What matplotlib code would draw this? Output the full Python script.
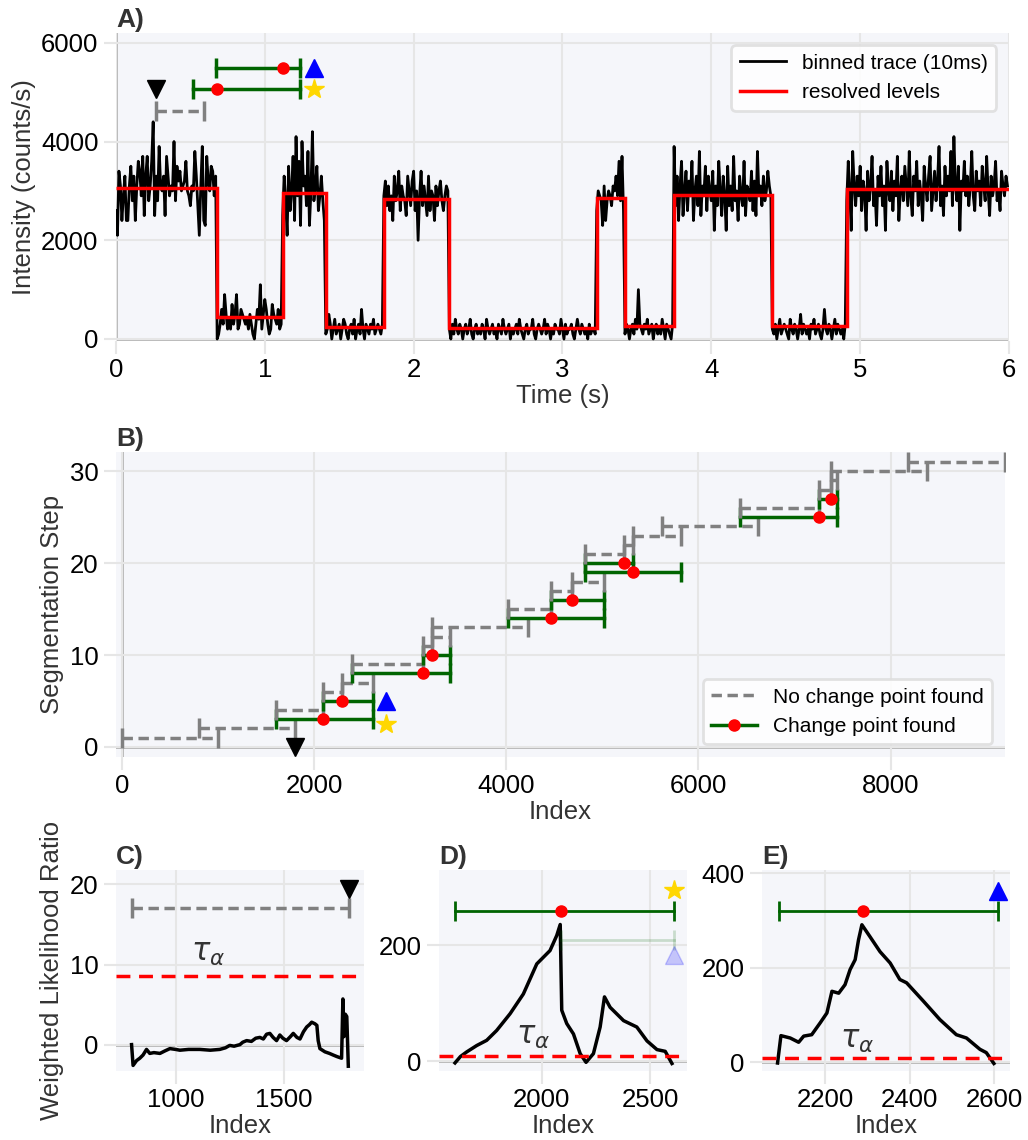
import matplotlib
matplotlib.use("Agg")
import matplotlib.pyplot as plt
from matplotlib.lines import Line2D
import numpy as np

plt.rcParams["font.family"] = ["Liberation Sans", "DejaVu Sans"]

BG = "#f5f6fa"
GRID = "#e6e6e6"
ZERO = "#b4b4b4"
LABEL = "#333333"
GREEN = "#006400"
GRAY = "#808080"

# ---------------- panel A: binned trace (photon counts per 10 ms bin) ----------------
bin_width = 0.01  # s
counts_per_bin = [
    # high 0.00-0.68 s
    26, 21, 34, 31, 24, 29, 33, 24, 24, 31, 35, 28, 33, 24, 31, 36, 34, 29, 37, 25,
    33, 37, 28, 31, 36, 44, 25, 33, 28, 39, 31, 30, 33, 25, 37, 33, 29, 31, 30, 40,
    28, 35, 32, 34, 30, 31, 32, 36, 30, 29, 27, 31, 30, 38, 33, 27, 21, 31, 39, 24,
    23, 37, 32, 30, 35, 34, 29, 33,
    # low 0.68-1.12 s
    0, 1, 3, 6, 3, 9, 5, 2, 4, 2, 7, 3, 5, 9, 2, 3, 6, 5, 4, 3,
    4, 2, 5, 3, 1, 0, 3, 6, 4, 11, 2, 5, 8, 6, 3, 1, 2, 7, 5, 4,
    3, 6, 2, 3,
    # high 1.12-1.41 s
    25, 33, 28, 21, 35, 26, 30, 37, 24, 41, 29, 36, 23, 40, 31, 33, 27, 38, 23, 30,
    42, 28, 31, 35, 26, 29, 33, 28, 24,
    # low 1.41-1.80 s
    1, 2, 5, 3, 0, 2, 4, 1, 2, 3, 0, 2, 4, 3, 1, 0, 2, 3, 1, 4,
    0, 2, 3, 1, 6, 2, 0, 3, 2, 1, 3, 2, 4, 1, 2, 3, 2, 1, 3,
    # high 1.80-2.24 s
    29, 32, 27, 31, 26, 29, 24, 33, 28, 30, 34, 26, 31, 29, 28, 25, 33, 30, 27, 32,
    34, 26, 30, 20, 29, 34, 27, 31, 28, 25, 33, 26, 30, 29, 24, 31, 27, 30, 32, 28,
    26, 29, 31, 30,
    # low 2.24-3.23 s
    2, 0, 3, 1, 4, 2, 1, 3, 2, 0, 2, 3, 1, 2, 4, 1, 0, 2, 3, 1,
    2, 1, 3, 2, 0, 4, 2, 1, 2, 3, 1, 2, 0, 3, 2, 1, 4, 2, 1, 2,
    3, 0, 2, 1, 2, 3, 1, 4, 2, 1, 0, 2, 3, 1, 2, 2, 4, 1, 0, 2,
    3, 2, 1, 2, 4, 1, 3, 2, 0, 2, 1, 3, 2, 2, 1, 4, 2, 0, 3, 1,
    2, 2, 3, 1, 0, 2, 4, 2, 1, 3, 2, 1, 2, 0, 3, 1, 2, 2, 1,
    # high 3.23-3.42 s
    26, 30, 29, 28, 23, 31, 24, 28, 30, 29, 27, 31, 30, 33, 29, 36, 28, 37, 26,
    # low 3.42-3.75 s
    1, 3, 2, 0, 2, 3, 1, 4, 2, 10, 3, 2, 1, 3, 2, 4, 1, 2, 3, 0,
    2, 3, 1, 2, 1, 4, 2, 0, 3, 2, 1, 0, 3,
    # high 3.75-4.41 s
    39, 27, 33, 24, 31, 36, 25, 30, 34, 26, 32, 29, 36, 24, 30, 33, 27, 38, 25, 31,
    29, 35, 26, 33, 30, 28, 34, 22, 31, 27, 36, 30, 25, 33, 29, 22, 35, 27, 31, 26,
    37, 28, 30, 24, 33, 29, 27, 36, 25, 31, 30, 28, 34, 26, 32, 25, 38, 29, 31, 27,
    33, 28, 30, 34, 31, 29,
    # low 4.41-4.91 s
    2, 1, 3, 0, 2, 4, 1, 2, 3, 2, 1, 0, 4, 2, 1, 3, 2, 0, 2, 5,
    1, 3, 2, 1, 2, 0, 3, 2, 4, 1, 2, 3, 1, 0, 2, 6, 2, 1, 3, 2,
    0, 2, 4, 1, 3, 2, 1, 2, 0, 3,
    # high 4.91-6.00 s
    28, 36, 30, 22, 38, 31, 27, 33, 29, 35, 26, 32, 30, 22, 34, 28, 31, 37, 27, 30,
    23, 33, 29, 35, 27, 31, 22, 36, 30, 28, 34, 26, 32, 29, 37, 24, 30, 33, 28, 35,
    31, 27, 38, 29, 25, 33, 30, 36, 27, 32, 29, 24, 35, 31, 28, 33, 37, 26, 30, 34,
    28, 32, 39, 27, 31, 25, 35, 29, 33, 30, 38, 27, 41, 31, 28, 35, 22, 32, 30, 36,
    29, 33, 27, 31, 38, 29, 26, 34, 30, 32, 27, 35, 31, 28, 37, 30, 25, 33, 29, 31,
    36, 28, 30, 26, 34, 31, 29, 33, 31,
]

# resolved intensity levels (counts/s)
level_edges = [0.0, 0.68, 1.12, 1.41, 1.80, 2.24, 3.23, 3.42, 3.75, 4.41, 4.91, 6.0]
level_values = [3060, 450, 2960, 235, 2830, 215, 2860, 255, 2920, 255, 3040]

# search windows shown on top of the trace (time in s, row height in counts/s)
a_window_start = [0.27, 0.52, 0.675]
a_window_end = [0.59, 1.235, 1.235]
a_window_row = [4620, 5070, 5500]
a_window_cp = [None, 0.68, 1.12]
a_marker_x = [0.27, 1.33, 1.33]
a_marker_y = [5070, 5070, 5500]

# ---------------- panel B: segmentation steps ----------------
seg_start = [0, 800, 1600, 1600, 2090, 2090, 2290, 2400, 2400, 3135, 3135, 3230, 3230,
             4020, 4020, 4470, 4470, 4685, 4825, 4825, 4825, 5230, 5315, 5620,
             6435, 6435, 7250, 7250, 7380, 7380, 8180]
seg_end = [1000, 1800, 2610, 2090, 2610, 2290, 2610, 3415, 3135, 3415, 3230, 3415, 4230,
           5020, 4470, 5020, 4685, 5020, 5820, 5315, 5230, 5315, 5820, 6620,
           7440, 7250, 7440, 7380, 7440, 8375, 9190]
seg_cp = [None, None, 2090, None, 2290, None, None, 3135, None, 3230, None, None, None,
          4470, None, 4685, None, None, 5315, 5230, None, None, None, None,
          7250, None, 7380, None, None, None, None]
b_marker_x = [1800, 2750, 2750]
b_marker_y = [0, 2.5, 5]

# ---------------- panels C-E: weighted likelihood ratio ----------------
threshold = 8.6

c_index = [797, 804, 820, 835, 850, 866, 881, 900, 928, 950, 974, 1000, 1020, 1060, 1112,
           1160, 1204, 1230, 1250, 1270, 1297, 1310, 1328, 1350, 1370, 1389, 1405, 1420,
           1435, 1450, 1466, 1481, 1495, 1512, 1530, 1543, 1560, 1574, 1590, 1605, 1618,
           1628, 1643, 1652, 1658, 1666, 1689, 1710, 1727, 1745, 1766, 1772, 1777, 1783,
           1790, 1797]
c_wlr = [0.0, -2.6, -2.0, -1.7, -1.3, -0.6, -1.1, -1.0, -1.1, -0.8, -0.5, -0.6, -0.7,
         -0.6, -0.6, -0.7, -0.6, -0.4, -0.1, -0.2, 0.0, 0.3, 0.5, 0.4, 0.8, 0.9, 0.7,
         1.3, 1.4, 0.9, 0.5, 1.2, 0.8, 0.5, 1.0, 1.4, 0.9, 0.7, 1.6, 2.2, 2.5, 2.8, 2.6,
         2.4, 0.5, -0.5, -0.9, -1.1, -1.3, -1.5, -1.7, 5.7, 1.0, 3.8, 3.5, -2.7]

d_index = [1600, 1625, 1654, 1700, 1746, 1792, 1854, 1915, 1977, 2038, 2069, 2085, 2089,
           2092, 2115, 2146, 2177, 2204, 2238, 2269, 2289, 2315, 2377, 2438, 2485, 2531,
           2569, 2600]
d_wlr = [-3, 8, 16, 27, 36, 53, 82, 116, 168, 191, 217, 236, 150, 88, 65, 47, 13, -2, 13,
         59, 111, 93, 70, 59, 35, 20, 17, -4]

e_index = [2087, 2095, 2117, 2137, 2149, 2168, 2188, 2204, 2216, 2232, 2247, 2259, 2271,
           2279, 2287, 2306, 2330, 2354, 2377, 2393, 2433, 2472, 2511, 2535, 2567, 2582,
           2600]
e_wlr = [-2, 56, 51, 42, 55, 58, 83, 104, 150, 146, 164, 196, 217, 259, 291, 266, 234,
         210, 175, 168, 129, 90, 58, 51, 27, 20, -3]


def style(ax, title):
    ax.set_facecolor(BG)
    for s in ax.spines.values():
        s.set_visible(False)
    ax.grid(True, color=GRID, lw=1.5)
    ax.set_axisbelow(True)
    ax.tick_params(colors=GRID, labelcolor="black", labelsize=18.5, length=9, width=1.5)
    ax.set_title(title, loc="left", fontweight="bold", fontsize=19, color=LABEL, pad=4)
    ax.axhline(0, color=ZERO, lw=2, zorder=0.5)


def window(ax, x0, x1, y, cp, capsize=14, lw=2.5, alpha=1.0):
    """Draw a search window; green with a red dot if a change point was found."""
    if cp is None:
        ax.plot([x0, x1], [y, y], color=GRAY, lw=lw, ls=(0, (3, 1.6)), alpha=alpha, zorder=3)
        ax.plot([x0, x1], [y, y], ls="none", marker="|", ms=capsize, mew=lw,
                color=GRAY, alpha=alpha, zorder=3)
    else:
        ax.plot([x0, x1], [y, y], color=GREEN, lw=lw, alpha=alpha, zorder=3)
        ax.plot([x0, x1], [y, y], ls="none", marker="|", ms=capsize, mew=lw,
                color=GREEN, alpha=alpha, zorder=3)
        if alpha == 1.0:
            ax.plot([cp], [y], "o", color="red", ms=8, zorder=4)


def legend_frame(leg):
    leg.get_frame().set_edgecolor("#dddddd")
    leg.get_frame().set_linewidth(2)
    leg.get_frame().set_facecolor("white")
    leg.get_frame().set_alpha(0.85)


fig = plt.figure(figsize=(10.28, 11.4), dpi=100)
axA = fig.add_axes([0.1128, 0.7009, 0.8687, 0.2702])
axB = fig.add_axes([0.1128, 0.3360, 0.8648, 0.2675])
axC = fig.add_axes([0.1128, 0.0605, 0.2412, 0.1763])
axD = fig.add_axes([0.4270, 0.0605, 0.2412, 0.1763])
axE = fig.add_axes([0.7412, 0.0605, 0.2412, 0.1763])

# ---- A ----
style(axA, "A)")
axA.axvline(0, color=ZERO, lw=2, zorder=0.5)
t = np.arange(len(counts_per_bin)) * bin_width
intensity = np.array(counts_per_bin) / bin_width
axA.plot(t, intensity, color="black", lw=2, label="binned trace (10ms)", zorder=2)
axA.stairs(level_values, level_edges, color="red", lw=2.5, baseline=None,
           label="resolved levels", zorder=2.5)
for x0, x1, y, cp in zip(a_window_start, a_window_end, a_window_row, a_window_cp):
    window(axA, x0, x1, y, cp, capsize=14)
axA.plot(a_marker_x[0], a_marker_y[0], "v", color="black", ms=13, zorder=5)
axA.plot(a_marker_x[1], a_marker_y[1], "*", color="gold", ms=15, zorder=5)
axA.plot(a_marker_x[2], a_marker_y[2], "^", color="blue", ms=13, zorder=5)
axA.set_xlim(0, 6)
axA.set_ylim(-40, 6200)
axA.set_yticks([0, 2000, 4000, 6000])
axA.set_xlabel("Time (s)", fontsize=18.5, color=LABEL, labelpad=1)
axA.set_ylabel("Intensity (counts/s)", fontsize=18.5, color=LABEL)
leg = axA.legend(loc="upper right", fontsize=15, frameon=True, fancybox=True,
                 borderaxespad=0.6, handlelength=2.2, handletextpad=0.8)
legend_frame(leg)

# ---- B ----
style(axB, "B)")
axB.axvline(0, color=ZERO, lw=2, zorder=0.5)
for k, (x0, x1, cp) in enumerate(zip(seg_start, seg_end, seg_cp), start=1):
    window(axB, x0, x1, k, cp, capsize=15)
axB.plot(b_marker_x[0], b_marker_y[0], "v", color="black", ms=13, zorder=5)
axB.plot(b_marker_x[1], b_marker_y[1], "*", color="gold", ms=15, zorder=5)
axB.plot(b_marker_x[2], b_marker_y[2], "^", color="blue", ms=13, zorder=5)
axB.set_xlim(-60, 9190)
axB.set_ylim(-1.1, 32.1)
axB.set_yticks([0, 10, 20, 30])
axB.set_xticks([0, 2000, 4000, 6000, 8000])
axB.set_xlabel("Index", fontsize=18.5, color=LABEL, labelpad=1)
axB.set_ylabel("Segmentation Step", fontsize=18.5, color=LABEL)
handles = [Line2D([], [], color=GRAY, lw=2.5, ls=(0, (3, 1.6))),
           Line2D([], [], color=GREEN, lw=2.5, marker="o", mfc="red", mec="red", ms=8)]
leg = axB.legend(handles, ["No change point found", "Change point found"], loc="lower right",
                 fontsize=15, frameon=True, fancybox=True, borderaxespad=0.6,
                 handlelength=2.2, handletextpad=0.8)
legend_frame(leg)

# ---- C ----
style(axC, "C)")
axC.plot(c_index, c_wlr, color="black", lw=2.5, zorder=2)
axC.axhline(threshold, color="red", lw=2.5, ls=(0, (4, 2.5)), zorder=2)
axC.text(1070, 10.5, r"$\tau_\alpha$", fontsize=22, color=LABEL)
window(axC, seg_start[1], seg_end[1], 17, None, capsize=14)
axC.plot(seg_end[1], 19.4, "v", color="black", ms=13, zorder=5)
axC.set_xlim(725, 1869)
axC.set_ylim(-3.3, 21.8)
axC.set_xticks([1000, 1500])
axC.set_yticks([0, 10, 20])
axC.set_xlabel("Index", fontsize=18.5, color=LABEL, labelpad=1)
axC.set_ylabel("Weighted Likelihood Ratio", fontsize=18.5, color=LABEL)

# ---- D ----
style(axD, "D)")
axD.plot(d_index, d_wlr, color="black", lw=2.5, zorder=2)
axD.axhline(threshold, color="red", lw=2.5, ls=(0, (4, 2.5)), zorder=2)
axD.text(1880, 30, r"$\tau_\alpha$", fontsize=22, color=LABEL)
window(axD, seg_start[2], seg_end[2], 260, seg_cp[2], capsize=14, lw=2)
window(axD, seg_start[4], seg_end[4], 210, seg_cp[4], capsize=14, lw=2, alpha=0.18)
axD.plot(seg_end[2], 296, "*", color="gold", ms=15, zorder=5)
axD.plot(seg_end[4], 183, "^", color="blue", ms=13, alpha=0.2, zorder=5)
axD.set_xlim(1526, 2669)
axD.set_ylim(-17, 330)
axD.set_xticks([2000, 2500])
axD.set_yticks([0, 200])
axD.set_xlabel("Index", fontsize=18.5, color=LABEL, labelpad=1)

# ---- E ----
style(axE, "E)")
axE.plot(e_index, e_wlr, color="black", lw=2.5, zorder=2)
axE.axhline(threshold, color="red", lw=2.5, ls=(0, (4, 2.5)), zorder=2)
axE.text(2235, 30, r"$\tau_\alpha$", fontsize=22, color=LABEL)
window(axE, seg_start[4], seg_end[4], 320, seg_cp[4], capsize=14, lw=2)
axE.plot(seg_end[4], 363, "^", color="blue", ms=13, zorder=5)
axE.set_xlim(2050, 2638)
axE.set_ylim(-19, 407)
axE.set_xticks([2200, 2400, 2600])
axE.set_yticks([0, 200, 400])
axE.set_xlabel("Index", fontsize=18.5, color=LABEL, labelpad=1)

fig.savefig("out.png", dpi=100)
